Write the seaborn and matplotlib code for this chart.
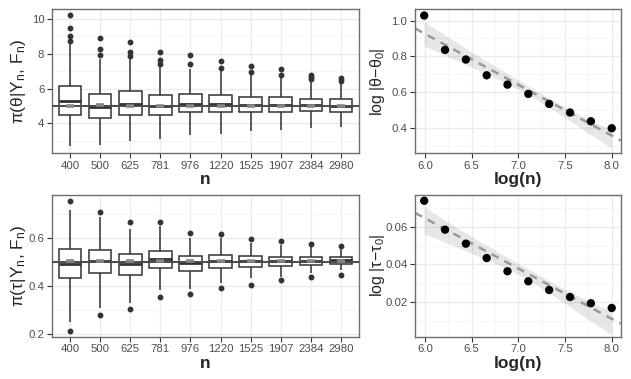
import numpy as np
import pandas as pd
import matplotlib
matplotlib.use("Agg")
import matplotlib.pyplot as plt
from matplotlib.ticker import MultipleLocator, FixedLocator, FormatStrFormatter
import seaborn as sns

# ---------------- data ----------------
n_vals = [400, 500, 625, 781, 976, 1220, 1525, 1907, 2384, 2980]
n_labels = [str(v) for v in n_vals]

# theta posterior box summaries
th_q1 = [4.48, 4.31, 4.50, 4.46, 4.65, 4.63, 4.63, 4.67, 4.69, 4.67]
th_med = [5.27, 4.96, 5.13, 5.00, 5.13, 5.10, 5.06, 5.08, 5.04, 5.00]
th_q3 = [6.15, 5.67, 5.83, 5.63, 5.67, 5.62, 5.54, 5.50, 5.42, 5.37]
th_wlo = [2.69, 2.73, 3.00, 3.08, 3.33, 3.38, 3.54, 3.63, 3.71, 3.81]
th_whi = [8.60, 7.68, 7.70, 7.27, 7.15, 7.04, 6.79, 6.60, 6.40, 6.27]
th_out_lo = [[], [], [], [], [], [], [], [], [], []]
th_out_hi = [[8.71, 9.04, 9.46, 10.21], [7.94, 8.27, 8.92], [7.85, 8.13, 8.65],
             [7.42, 7.63, 8.08], [7.44, 7.92], [7.19, 7.56], [6.98, 7.31],
             [6.79, 7.10], [6.55, 6.65, 6.77], [6.45, 6.60]]
th_mean = [5.00, 5.03, 5.00, 5.00, 5.00, 5.00, 5.00, 5.00, 5.00, 5.00]
theta0 = 5.0

# tau posterior box summaries
ta_q1 = [0.432, 0.452, 0.446, 0.473, 0.462, 0.476, 0.479, 0.484, 0.488, 0.492]
ta_med = [0.492, 0.503, 0.490, 0.512, 0.494, 0.503, 0.502, 0.503, 0.505, 0.506]
ta_q3 = [0.553, 0.549, 0.531, 0.546, 0.523, 0.527, 0.523, 0.521, 0.521, 0.520]
ta_wlo = [0.252, 0.308, 0.331, 0.383, 0.386, 0.411, 0.432, 0.436, 0.455, 0.466]
ta_whi = [0.714, 0.687, 0.634, 0.648, 0.597, 0.597, 0.577, 0.570, 0.563, 0.552]
ta_out_lo = [[0.212], [0.279], [0.305], [0.354], [0.366], [0.390], [0.406],
             [0.423], [0.436], [0.447]]
ta_out_hi = [[0.753], [0.706], [0.666], [0.665], [0.619], [0.614], [0.594],
             [0.586], [0.574], [0.566]]
ta_mean = [0.502, 0.503, 0.503, 0.503, 0.502, 0.502, 0.502, 0.502, 0.502, 0.502]
tau0 = 0.5

# convergence of errors
err_theta = [1.028, 0.836, 0.782, 0.694, 0.642, 0.590, 0.534, 0.486, 0.437, 0.398]
err_tau = [0.0737, 0.0584, 0.0510, 0.0434, 0.0364, 0.0311, 0.0265, 0.0228, 0.0195, 0.0170]


def sample_from_summary(lo_out, wlo, q1, med, q3, whi, hi_out):
    """Sample whose quartiles/whiskers/fliers reproduce the read summary."""
    l = len(lo_out) + 1
    u = len(hi_out) + 1
    k = max(l, u) + 1
    below = sorted(lo_out) + [wlo] + [q1] * (k - l)
    above = [q3] * (k - u) + [whi] + sorted(hi_out)
    return below + [q1] + [q1] * (k - 1) + [med] + [med] * (k - 1) + [q3] + above


def long_frame(q1, med, q3, wlo, whi, out_lo, out_hi):
    rows = []
    for i, lab in enumerate(n_labels):
        vals = sample_from_summary(out_lo[i], wlo[i], q1[i], med[i], q3[i], whi[i], out_hi[i])
        rows += [(lab, v) for v in vals]
    return pd.DataFrame(rows, columns=["n", "value"])


df_theta = long_frame(th_q1, th_med, th_q3, th_wlo, th_whi, th_out_lo, th_out_hi)
df_tau = long_frame(ta_q1, ta_med, ta_q3, ta_wlo, ta_whi, ta_out_lo, ta_out_hi)
df_err = pd.DataFrame({"logn": np.log(n_vals), "err_theta": err_theta, "err_tau": err_tau})

# ---------------- style ----------------
sns.set_theme(style="whitegrid")
plt.rcParams["font.family"] = ["Liberation Sans", "DejaVu Sans"]
plt.rcParams["mathtext.fontset"] = "custom"
plt.rcParams["mathtext.rm"] = "Liberation Sans"
plt.rcParams["mathtext.it"] = "Liberation Sans:italic"
plt.rcParams["mathtext.bf"] = "Liberation Sans:bold"

W, H = 631, 379
fig = plt.figure(figsize=(W / 100, H / 100), dpi=100)
fig.patch.set_facecolor("white")


def rect(l, r, t, b):
    return [l / W, 1 - b / H, (r - l) / W, (b - t) / H]


ax_tl = fig.add_axes(rect(52, 359, 9.3, 153))
ax_bl = fig.add_axes(rect(52, 359, 194.7, 336.7))
ax_tr = fig.add_axes(rect(415, 620.7, 9.3, 153.3))
ax_br = fig.add_axes(rect(415, 620.7, 194.7, 336.7))

EDGE = "#333333"
TICKC = "#4d4d4d"
GRID_MAJ = "#ebebeb"
GRID_MIN = "#f4f4f4"


def style_axes(ax):
    ax.set_facecolor("white")
    for sp in ax.spines.values():
        sp.set_visible(True)
        sp.set_color("#6e6e6e")
        sp.set_linewidth(1.0)
    ax.tick_params(axis="both", which="major", length=3.5, width=0.8, color=EDGE,
                   labelsize=8.2, labelcolor=TICKC, pad=2, direction="out",
                   bottom=True, left=True)
    ax.tick_params(axis="both", which="minor", length=0)
    ax.grid(True, which="major", color=GRID_MAJ, lw=1.0, zorder=0)
    ax.grid(True, which="minor", color=GRID_MIN, lw=0.6, zorder=0)
    ax.set_axisbelow(True)


def set_ylabel_px(ax, text, x_px, size):
    ax.set_ylabel(text, fontsize=size)
    pos = ax.get_position()
    x_ax = (x_px / W - pos.x0) / pos.width
    ax.yaxis.set_label_coords(x_ax, 0.5)
    ax.yaxis.label.set_verticalalignment("center")


def box_panel(ax, df, means, truth, ylim, yticks, yminor, ylabel, fmt):
    sns.boxplot(data=df, x="n", y="value", order=n_labels, ax=ax, width=0.75,
                color="white", linecolor=EDGE, linewidth=1.1, fliersize=3.2,
                showcaps=False,
                flierprops=dict(marker="o", markerfacecolor=EDGE, markeredgecolor=EDGE),
                medianprops=dict(color=EDGE, linewidth=2.0))
    ax.axhline(truth, color="#4a4a4a", lw=1.4, zorder=5)
    sns.pointplot(x=n_labels, y=means, order=n_labels, ax=ax, errorbar=None,
                  markers="_", linestyles="none", color="#858585",
                  markersize=5.4, markeredgewidth=2.6)
    for ln in ax.lines[-1:]:
        ln.set_zorder(6)
    style_axes(ax)
    ax.xaxis.grid(True, which="major", color=GRID_MAJ, lw=1.0)
    ax.set_xlim(-0.6, 9.6)
    ax.set_ylim(*ylim)
    ax.yaxis.set_major_locator(FixedLocator(yticks))
    ax.yaxis.set_minor_locator(FixedLocator(yminor))
    ax.yaxis.set_major_formatter(FormatStrFormatter(fmt))
    ax.set_xlabel("n", fontsize=12.5, fontweight="bold", labelpad=1)
    set_ylabel_px(ax, ylabel, 18, 12.5)


box_panel(ax_tl, df_theta, th_mean, theta0, (2.29, 10.56), [4, 6, 8, 10], [3, 5, 7, 9],
          r"π(θ|Y$_\mathrm{n}$, F$_\mathrm{n}$)", "%d")
box_panel(ax_bl, df_tau, ta_mean, tau0, (0.19, 0.778), [0.2, 0.4, 0.6], [0.3, 0.5, 0.7],
          r"π(τ|Y$_\mathrm{n}$, F$_\mathrm{n}$)", "%.1f")


def err_panel(ax, col, ylim, yticks, yminor, ylabel, fmt):
    ax.set_xlim(5.893, 8.096)
    # confidence band on the data range
    sns.regplot(data=df_err, x="logn", y=col, ax=ax, scatter=False, ci=95,
                truncate=True, color="#606060", seed=3, line_kws=dict(alpha=0))
    ax.set_xlim(5.893, 8.096)
    # dashed fitted line across the full panel
    sns.regplot(data=df_err, x="logn", y=col, ax=ax, scatter=False, ci=None,
                truncate=False, color="#999999",
                line_kws=dict(ls=(0, (3.2, 2.6)), lw=1.8))
    sns.scatterplot(data=df_err, x="logn", y=col, ax=ax, color="black", s=36,
                    edgecolor="none", zorder=5)
    style_axes(ax)
    ax.set_xlim(5.893, 8.096)
    ax.set_ylim(*ylim)
    ax.xaxis.set_major_locator(MultipleLocator(0.5))
    ax.xaxis.set_minor_locator(MultipleLocator(0.25))
    ax.xaxis.set_major_formatter(FormatStrFormatter("%.1f"))
    ax.yaxis.set_major_locator(FixedLocator(yticks))
    ax.yaxis.set_minor_locator(FixedLocator(yminor))
    ax.yaxis.set_major_formatter(FormatStrFormatter(fmt))
    ax.set_xlabel("log(n)", fontsize=12.5, fontweight="bold", labelpad=1)
    set_ylabel_px(ax, ylabel, 377, 11.5)


err_panel(ax_tr, "err_theta", (0.258, 1.063), [0.4, 0.6, 0.8, 1.0], [0.3, 0.5, 0.7, 0.9],
          r"log |θ−θ$_\mathrm{0}$|", "%.1f")
err_panel(ax_br, "err_tau", (0.0018, 0.0769), [0.02, 0.04, 0.06], [0.01, 0.03, 0.05, 0.07],
          r"log |τ−τ$_\mathrm{0}$|", "%.2f")

fig.savefig("out.png", dpi=100, facecolor="white")
